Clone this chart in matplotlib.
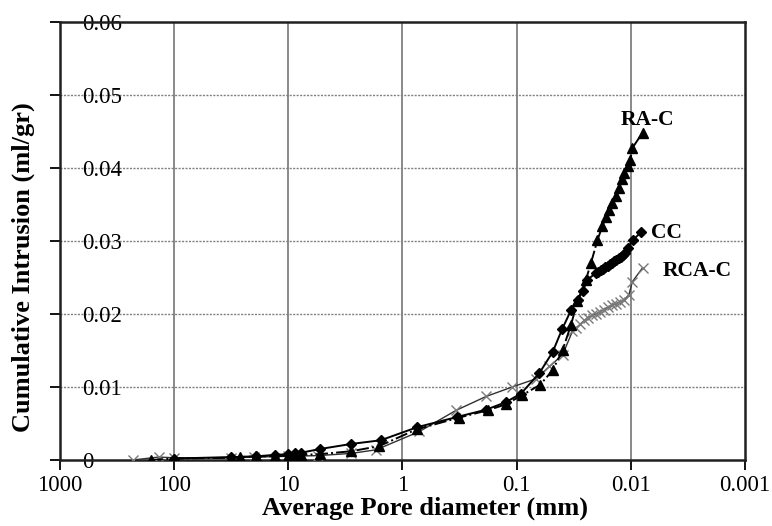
import matplotlib.pyplot as plt

plt.rcParams['font.family'] = ['Liberation Serif', 'DejaVu Serif']

# pore diameter (mm) and cumulative intrusion (ml/gr) for each mix
cc_d = [100, 31.5, 19, 13.2, 10, 8.8, 7.7, 5.3, 2.8, 1.55, 0.74, 0.33, 0.184,
        0.125, 0.0914, 0.0632, 0.0483, 0.040, 0.0334, 0.0292, 0.0264, 0.024,
        0.0201, 0.0192, 0.0183, 0.0175, 0.0167, 0.016, 0.0153, 0.0146, 0.014,
        0.0134, 0.0128, 0.0122, 0.0117, 0.0112, 0.01066, 0.00964, 0.0081]
cc_v = [0.0002, 0.0004, 0.0005, 0.0007, 0.0008, 0.0009, 0.0010, 0.0015,
        0.0022, 0.0027, 0.0045, 0.0059, 0.0069, 0.0079, 0.0091, 0.0119,
        0.0148, 0.0179, 0.0205, 0.0219, 0.0231, 0.0247, 0.0256, 0.0258,
        0.0260, 0.0262, 0.0264, 0.0266, 0.0268, 0.0270, 0.0272, 0.0274,
        0.0276, 0.0278, 0.0281, 0.0284, 0.0290, 0.0301, 0.0312]

ra_d = [160, 100, 31.5, 26.6, 19, 13.2, 10, 8.8, 7.7, 5.3, 2.8, 1.6, 0.75,
        0.32, 0.18, 0.125, 0.0889, 0.0622, 0.0483, 0.0395, 0.0334, 0.0294,
        0.0247, 0.0223, 0.0196, 0.01775, 0.0165, 0.0154, 0.01452, 0.01347,
        0.01262, 0.01186, 0.0114, 0.01066, 0.0101, 0.0097, 0.0079]
ra_v = [0.0, 0.0002, 0.0003, 0.0004, 0.0005, 0.0005, 0.0006, 0.0006, 0.0007,
        0.0008, 0.0012, 0.0019, 0.0042, 0.0058, 0.0068, 0.0076, 0.0089,
        0.0103, 0.0123, 0.0151, 0.0185, 0.0217, 0.0247, 0.0270, 0.0301,
        0.0320, 0.0332, 0.0342, 0.0352, 0.0361, 0.0373, 0.0384, 0.0393,
        0.0402, 0.0411, 0.0427, 0.0448]

rca_d = [231, 136, 100, 32, 20, 10, 5.5, 2.8, 1.7, 0.71, 0.339, 0.185, 0.109,
         0.0682, 0.0516, 0.0396, 0.0325, 0.030, 0.0277, 0.0256, 0.0236,
         0.0218, 0.0202, 0.0186, 0.0172, 0.0159, 0.0147, 0.0136, 0.0125,
         0.0115, 0.0104, 0.0097, 0.0079]
rca_v = [0.0, 0.0004, 0.0003, 0.0003, 0.0004, 0.0005, 0.0006, 0.0009, 0.0014,
         0.0039, 0.0068, 0.0087, 0.0100, 0.0111, 0.0128, 0.0144, 0.0176,
         0.0181, 0.0186, 0.0191, 0.0195, 0.0198, 0.0200, 0.0203, 0.0206,
         0.0209, 0.0212, 0.0214, 0.0216, 0.0219, 0.0226, 0.0244, 0.0263]

x_ticks = [1000, 100, 10, 1, 0.1, 0.01, 0.001]
x_labels = ['1000', '100', '10', '1', '0.1', '0.01', '0.001']
y_ticks = [0, 0.01, 0.02, 0.03, 0.04, 0.05, 0.06]
y_labels = ['0', '0.01', '0.02', '0.03', '0.04', '0.05', '0.06']

fig = plt.figure(figsize=(7.72, 5.26), dpi=100)
ax = fig.add_axes([0.0777, 0.1255, 0.8873, 0.8332])

ax.set_xscale('log')
ax.set_xlim(1000, 0.001)
ax.set_ylim(0, 0.06)

# grid: solid verticals, dotted horizontals
for x in x_ticks[1:-1]:
    ax.axvline(x, color='#808080', lw=1.3, zorder=1)
for y in y_ticks[1:-1]:
    ax.axhline(y, color='#808080', lw=1.0, ls=(0, (1.5, 1)), zorder=1)

ax.plot(rca_d, rca_v, color='#303030', lw=1.0, marker='x', ms=7,
        mec='#7a7a7a', mew=1.0, zorder=3)
ax.plot(ra_d, ra_v, color='black', lw=1.4, ls='-.', marker='^', ms=6.5,
        mfc='black', mec='black', zorder=4)
ax.plot(cc_d, cc_v, color='black', lw=1.4, marker='D', ms=5,
        mfc='black', mec='black', zorder=4)

ax.text(0.0072, 0.0466, 'RA-C', fontsize=15.5, fontweight='bold',
        ha='center', va='center')
ax.text(0.0049, 0.0311, 'CC', fontsize=15.5, fontweight='bold',
        ha='center', va='center')
ax.text(0.0026, 0.0259, 'RCA-C', fontsize=15.5, fontweight='bold',
        ha='center', va='center')

ax.set_xticks(x_ticks)
ax.set_xticklabels(x_labels, fontsize=16.5)
ax.minorticks_off()
ax.set_yticks(y_ticks)
ax.set_yticklabels(y_labels, fontsize=16.5)
ax.tick_params(axis='x', direction='out', length=7, width=1.3, pad=4)
ax.tick_params(axis='y', direction='out', length=7, width=1.3, pad=-23)
for lab in ax.get_yticklabels():
    lab.set_horizontalalignment('left')

for side in ['top', 'right', 'left', 'bottom']:
    ax.spines[side].set_linewidth(1.8)
    ax.spines[side].set_color('#202020')

ax.set_xlabel('Average Pore diameter (mm)', fontsize=19, fontweight='bold')
ax.xaxis.set_label_coords(0.533, -0.083)
ax.set_ylabel('Cumulative Intrusion (ml/gr)', fontsize=19, fontweight='bold')
ax.yaxis.set_label_coords(-0.036, 0.44)

plt.savefig('out.png', dpi=100)
